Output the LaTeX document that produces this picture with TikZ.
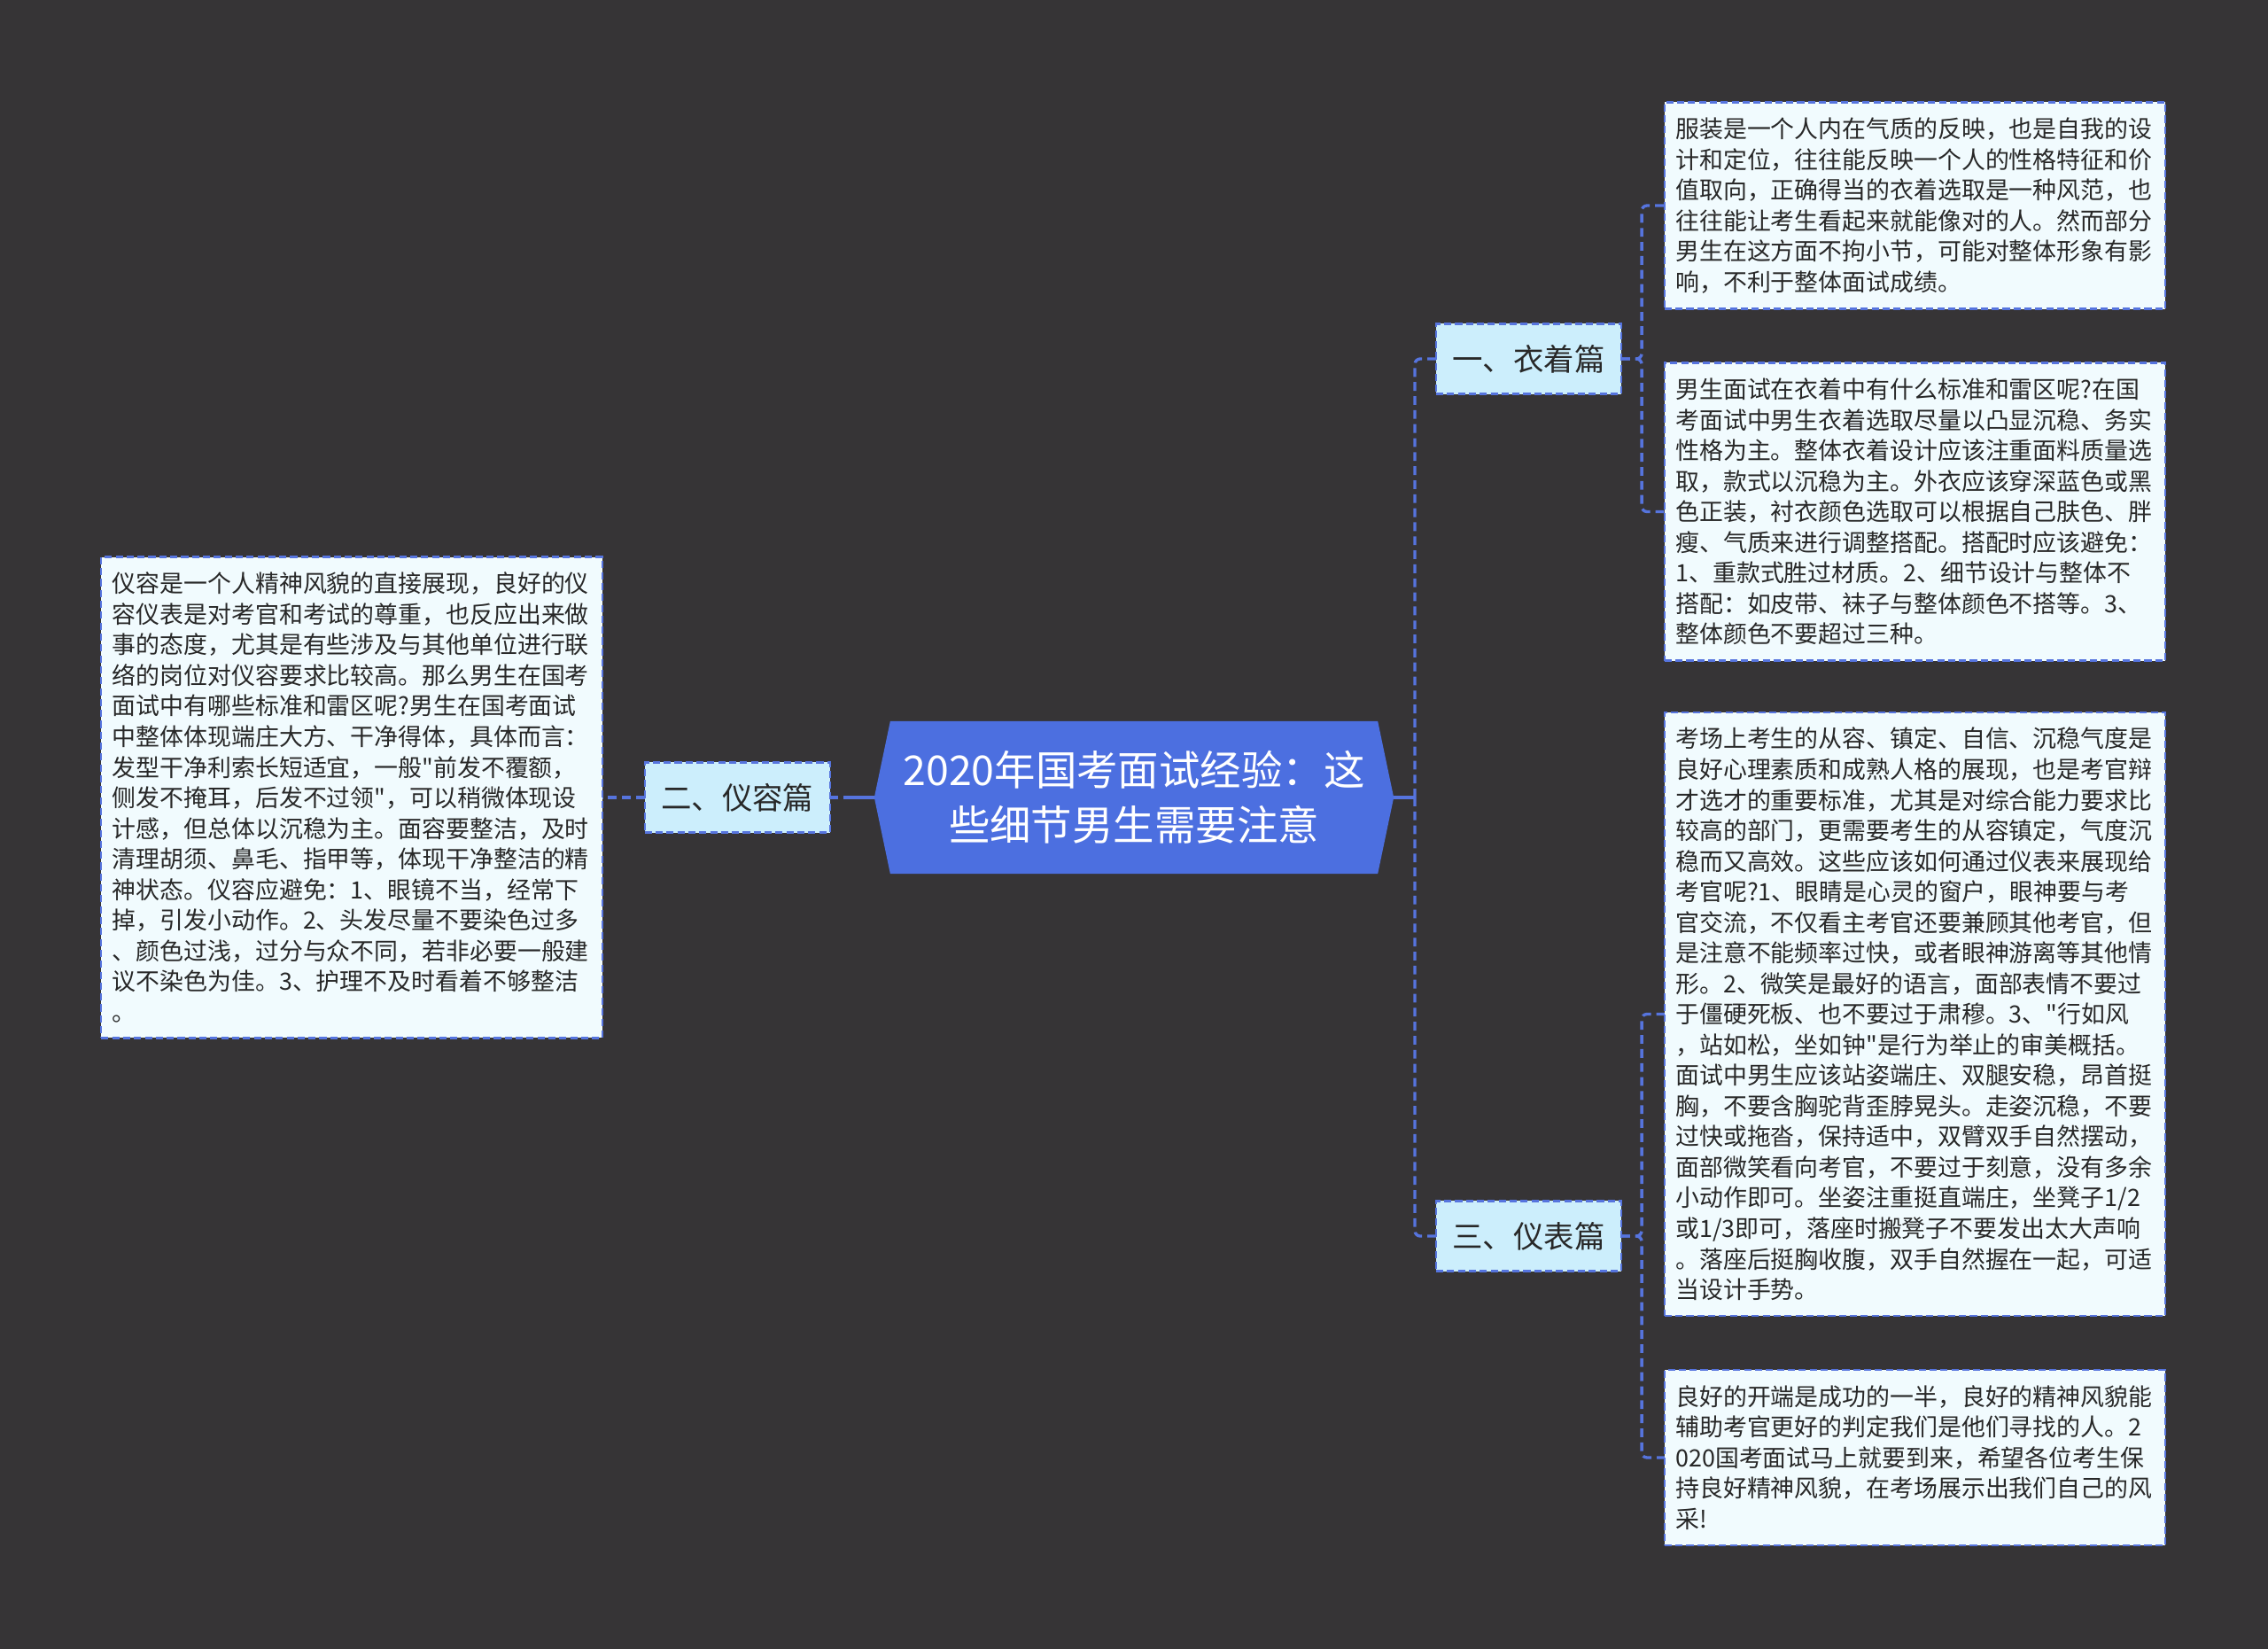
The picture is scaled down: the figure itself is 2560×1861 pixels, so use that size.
\documentclass[tikz,border=0pt]{standalone}
\usepackage{fontspec}
\usepackage{tikz}
\newfontfamily\cjk{Noto Sans CJK SC}
\usetikzlibrary{positioning}
\definecolor{bgdark}{RGB}{54,52,54}
\definecolor{rootblue}{RGB}{76,111,224}
\definecolor{linkblue}{RGB}{86,116,222}
\definecolor{branchfill}{RGB}{204,238,252}
\definecolor{leaffill}{RGB}{241,251,254}
\definecolor{inkgray}{RGB}{40,40,40}

\begin{document}
\begin{tikzpicture}[
    x=0.01cm, y=-0.01cm,
    root/.style={rectangle, outer sep=0pt, inner sep=0pt, minimum width=5.86cm, minimum height=1.72cm, align=center, text=white, font=\cjk\fontsize{13.2}{17.6}\selectfont,
      path picture={\fill[rootblue] (path picture bounding box.west) -- ([xshift=0.18cm]path picture bounding box.north west) -- ([xshift=-0.18cm]path picture bounding box.north east) -- (path picture bounding box.east) -- ([xshift=-0.18cm]path picture bounding box.south east) -- ([xshift=0.18cm]path picture bounding box.south west) -- cycle;}},
    branch/.style={rectangle, draw=linkblue, fill=branchfill, line width=0.65pt, dash pattern=on 2.3pt off 1.2pt, minimum width=2.09cm, minimum height=0.79cm, inner sep=0pt, outer sep=0pt, text=inkgray, font=\cjk\fontsize{9.8}{12}\selectfont},
    leaf/.style={rectangle, draw=linkblue, fill=leaffill, line width=0.65pt, dash pattern=on 2.3pt off 1.2pt, text width=5.40cm, align=left, inner xsep=0.125cm, inner ysep=0.175cm, outer sep=0pt, text=inkgray, font=\cjk\fontsize{7.65}{9.82}\selectfont},
    link/.style={draw=linkblue, line width=0.95pt, dash pattern=on 2.8pt off 1.7pt, rounded corners=0.06cm},
    trunk/.style={draw=linkblue, line width=0.95pt}
]

\useasboundingbox (0,0) rectangle (2560,1861);
\fill[bgdark] (0,0) rectangle (2560,1861);

\node[root] (root) at (1280,900) {2020年国考面试经验：这\\些细节男生需要注意};

\node[branch] (dress) at (1725.5,405) {一、衣着篇};
\node[branch, left=0.5cm of root] (face) {二、仪容篇};
\node[branch] (manner) at (1725.5,1395) {三、仪表篇};

% leaves of 一
\node[leaf] (dressA) at (2161.5,232) {服装是一个人内在气质的反映，也是自我的设\\计和定位，往往能反映一个人的性格特征和价\\值取向，正确得当的衣着选取是一种风范，也\\往往能让考生看起来就能像对的人。然而部分\\男生在这方面不拘小节，可能对整体形象有影\\响，不利于整体面试成绩。};
\node[leaf] (dressB) at (2161.5,577.5) {男生面试在衣着中有什么标准和雷区呢?在国\\考面试中男生衣着选取尽量以凸显沉稳、务实\\性格为主。整体衣着设计应该注重面料质量选\\取，款式以沉稳为主。外衣应该穿深蓝色或黑\\色正装，衬衣颜色选取可以根据自己肤色、胖\\瘦、气质来进行调整搭配。搭配时应该避免：\\1、重款式胜过材质。2、细节设计与整体不\\搭配：如皮带、袜子与整体颜色不搭等。3、\\整体颜色不要超过三种。};

% leaf of 二
\node[leaf, left=0.48cm of face] (faceA) {仪容是一个人精神风貌的直接展现，良好的仪\\容仪表是对考官和考试的尊重，也反应出来做\\事的态度，尤其是有些涉及与其他单位进行联\\络的岗位对仪容要求比较高。那么男生在国考\\面试中有哪些标准和雷区呢?男生在国考面试\\中整体体现端庄大方、干净得体，具体而言：\\发型干净利索长短适宜，一般"前发不覆额，\\侧发不掩耳，后发不过领"，可以稍微体现设\\计感，但总体以沉稳为主。面容要整洁，及时\\清理胡须、鼻毛、指甲等，体现干净整洁的精\\神状态。仪容应避免：1、眼镜不当，经常下\\掉，引发小动作。2、头发尽量不要染色过多\\、颜色过浅，过分与众不同，若非必要一般建\\议不染色为佳。3、护理不及时看着不够整洁\\。};

% leaves of 三
\node[leaf] (mannerA) at (2161.5,1144.5) {考场上考生的从容、镇定、自信、沉稳气度是\\良好心理素质和成熟人格的展现，也是考官辩\\才选才的重要标准，尤其是对综合能力要求比\\较高的部门，更需要考生的从容镇定，气度沉\\稳而又高效。这些应该如何通过仪表来展现给\\考官呢?1、眼睛是心灵的窗户，眼神要与考\\官交流，不仅看主考官还要兼顾其他考官，但\\是注意不能频率过快，或者眼神游离等其他情\\形。2、微笑是最好的语言，面部表情不要过\\于僵硬死板、也不要过于肃穆。3、"行如风\\，站如松，坐如钟"是行为举止的审美概括。\\面试中男生应该站姿端庄、双腿安稳，昂首挺\\胸，不要含胸驼背歪脖晃头。走姿沉稳，不要\\过快或拖沓，保持适中，双臂双手自然摆动，\\面部微笑看向考官，不要过于刻意，没有多余\\小动作即可。坐姿注重挺直端庄，坐凳子1/2\\或1/3即可，落座时搬凳子不要发出太大声响\\。落座后挺胸收腹，双手自然握在一起，可适\\当设计手势。};
\node[leaf] (mannerB) at (2161.5,1645) {良好的开端是成功的一半，良好的精神风貌能\\辅助考官更好的判定我们是他们寻找的人。2\\020国考面试马上就要到来，希望各位考生保\\持良好精神风貌，在考场展示出我们自己的风\\采!};

\coordinate (jr) at (1597,900);
\coordinate (jl) at (962,900);

% root -> right branches
\draw[trunk] (root.east) -- (jr);
\draw[link] (jr) |- (dress.west);
\draw[link] (jr) |- (manner.west);

% root -> left branch
\draw[trunk] (root.west) -- (jl);
\draw[link] (jl) -- (face.east);
\draw[link] (face.west) -- (faceA.east);

% branches -> leaves
\draw[link] (dress.east) -- ++(23,0) |- (dressA.west);
\draw[link] (dress.east) -- ++(23,0) |- (dressB.west);
\draw[link] (manner.east) -- ++(23,0) |- (mannerA.west);
\draw[link] (manner.east) -- ++(23,0) |- (mannerB.west);

\end{tikzpicture}
\end{document}
